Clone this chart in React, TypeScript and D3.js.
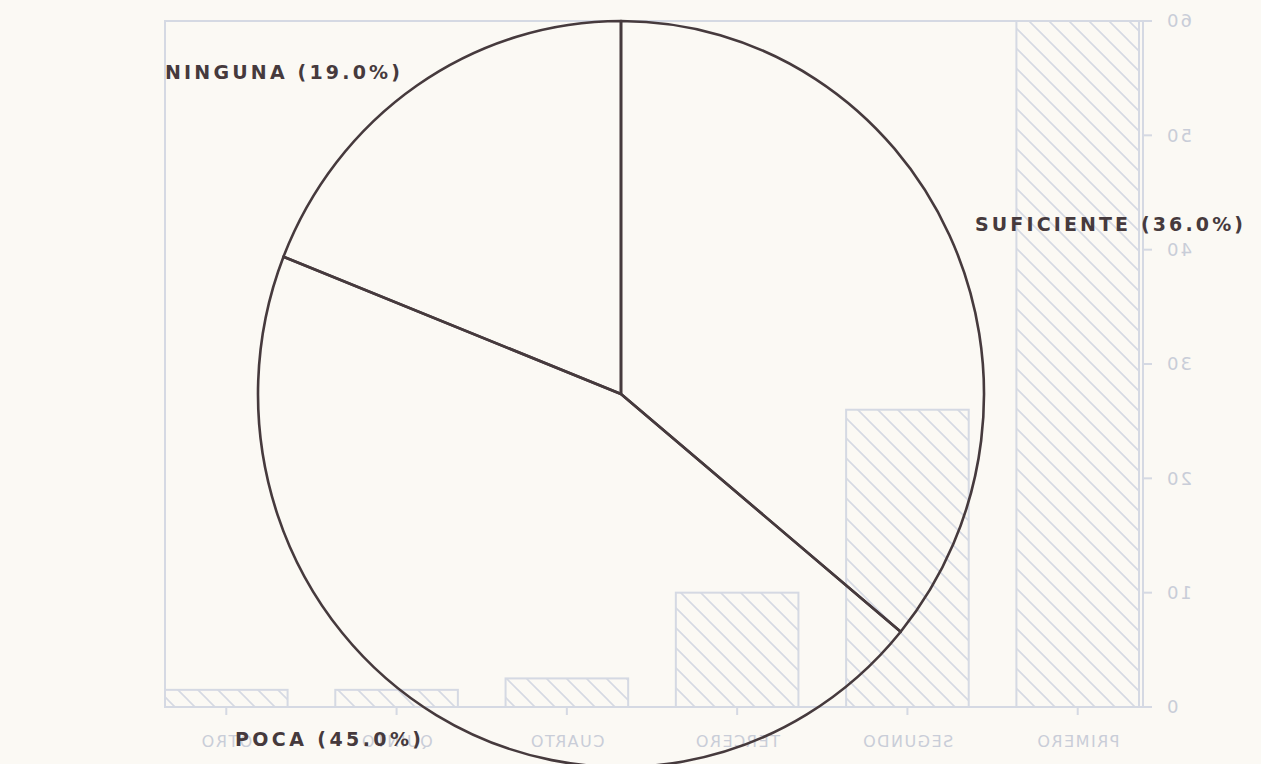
import { useMemo } from 'react';
import * as d3 from 'd3';

const W = 1261;
const H = 764;

// Gráfico principal: pastel
const sliceNames = ['SUFICIENTE', 'POCA', 'NINGUNA'];
const sliceValues = [36, 45, 19];

// Gráfico de barras que se transparenta desde el reverso de la hoja
const barCategories = ['PRIMERO', 'SEGUNDO', 'TERCERO', 'CUARTO', 'QUINTO', 'OTRO'];
const barValues = [60, 26, 10, 2.5, 1.5, 1.5];
const barTicks = [0, 10, 20, 30, 40, 50, 60];

const PIE = { cx: 621, cy: 394, rx: 363, ry: 373 };
// caja del gráfico de barras (coordenadas antes del espejo)
const BOX = { left: 165, right: 1143, top: 21, bottom: 707 };
const MIRROR_X = BOX.left + BOX.right;

const INK = '#463a3d';
const GHOST = '#d5d9e3';
const GHOST_TEXT = '#c9cdd8';

// posiciones de las etiquetas del pastel: x, línea base, ancho del texto
const LABEL_POS: Record<string, [number, number, number]> = {
  SUFICIENTE: [975, 231, 268],
  POCA: [235, 746, 186],
  NINGUNA: [165, 79, 235],
};

const GhostBars = () => {
  const x = useMemo(
    () =>
      d3
        .scaleBand()
        .domain(barCategories)
        .range([BOX.left + 4, BOX.right])
        .paddingInner(0.28)
        .paddingOuter(0),
    []
  );
  const y = useMemo(
    () => d3.scaleLinear().domain([0, 60]).range([BOX.bottom, BOX.top]),
    []
  );

  return (
    <g transform={`translate(${MIRROR_X},0) scale(-1,1)`}>
      <defs>
        <pattern id="hatch" width={20} height={20} patternUnits="userSpaceOnUse">
          <path d="M-5,5 L5,-5 M0,20 L20,0 M15,25 L25,15" stroke={GHOST} strokeWidth={1.6} />
        </pattern>
      </defs>
      <rect
        x={BOX.left}
        y={BOX.top}
        width={BOX.right - BOX.left}
        height={BOX.bottom - BOX.top}
        fill="none"
        stroke={GHOST}
        strokeWidth={2}
      />
      {barCategories.map((c, i) => (
        <rect
          key={c}
          x={x(c)}
          y={y(barValues[i])}
          width={x.bandwidth()}
          height={y(0) - y(barValues[i])}
          fill="url(#hatch)"
          stroke={GHOST}
          strokeWidth={2}
        />
      ))}
      {barTicks.map((t) => (
        <g key={t}>
          <line x1={BOX.left - 9} x2={BOX.left} y1={y(t)} y2={y(t)} stroke={GHOST} strokeWidth={2} />
          <text
            x={BOX.left - 22}
            y={y(t)}
            dy="0.36em"
            textAnchor="end"
            fontFamily="DejaVu Sans, sans-serif"
            fontSize={18}
            letterSpacing={2}
            fill={GHOST_TEXT}
          >
            {t}
          </text>
        </g>
      ))}
      {barCategories.map((c) => (
        <g key={c}>
          <line
            x1={x(c)! + x.bandwidth() / 2}
            x2={x(c)! + x.bandwidth() / 2}
            y1={BOX.bottom}
            y2={BOX.bottom + 8}
            stroke={GHOST}
            strokeWidth={2}
          />
          <text
            x={x(c)! + x.bandwidth() / 2}
            y={BOX.bottom + 40}
            textAnchor="middle"
            fontFamily="DejaVu Sans, sans-serif"
            fontSize={16}
            letterSpacing={1.5}
            fill={GHOST_TEXT}
          >
            {c}
          </text>
        </g>
      ))}
    </g>
  );
};

const PieChart = () => {
  const arcs = useMemo(
    () =>
      d3
        .pie<number>()
        .sort(null)
        .startAngle(0)
        .endAngle(2 * Math.PI)(sliceValues),
    []
  );
  const arcGen = d3.arc<d3.PieArcDatum<number>>().innerRadius(0).outerRadius(PIE.ry);
  const total = d3.sum(sliceValues);

  return (
    <g>
      <g transform={`translate(${PIE.cx},${PIE.cy}) scale(${PIE.rx / PIE.ry},1)`}>
        {arcs.map((a, i) => (
          <path
            key={sliceNames[i]}
            d={arcGen(a) ?? ''}
            fill="none"
            stroke={INK}
            strokeWidth={2.6}
            strokeLinejoin="round"
            vectorEffect="non-scaling-stroke"
          />
        ))}
      </g>
      {sliceNames.map((n, i) => {
        const [lx, ly, lw] = LABEL_POS[n];
        const pct = ((sliceValues[i] / total) * 100).toFixed(1);
        return (
          <text
            key={n}
            x={lx}
            y={ly}
            textLength={lw}
            lengthAdjust="spacing"
            fontFamily="DejaVu Sans, sans-serif"
            fontWeight="bold"
            fontSize={19}
            fill={INK}
          >
            {`${n} (${pct}%)`}
          </text>
        );
      })}
    </g>
  );
};

export default function App() {
  return (
    <svg
      width={W}
      height={H}
      style={{ position: 'absolute', left: 0, top: 0, display: 'block' }}
    >
      <rect x={0} y={0} width={W} height={H} fill="#fbf9f4" />
      <GhostBars />
      <PieChart />
    </svg>
  );
}
